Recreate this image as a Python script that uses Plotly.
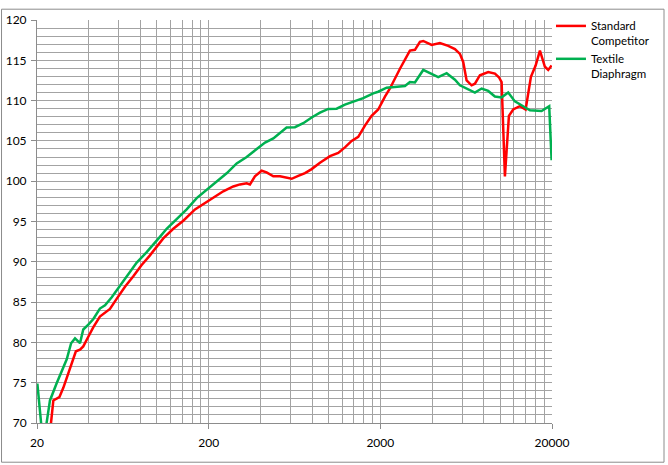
import plotly.graph_objects as go

# Frequency response readings (Hz, dB)
freq_red = [20.0, 21.4, 22.2, 23.2, 24.9, 27.0, 28.5, 29.8, 31.9, 33.7, 35.6, 37.2, 39.8,
            42.6, 46.5, 49.8, 53.2, 58.2, 65.1, 72.8, 81.4, 91.0, 99.6, 108.8, 124.4,
            142.3, 166.5, 190.3, 212.8, 243.3, 278.2, 304.4, 333, 348, 372, 407, 435,
            476, 521, 557, 609, 665, 728, 796, 890, 1018, 1137, 1244, 1361, 1487, 1627,
            1779, 1944, 2128, 2275, 2602, 2974, 3181, 3402, 3556, 3980, 4448, 4973,
            5440, 5817, 6078, 6362, 6802, 7112, 7606, 8500, 9300, 9812, 10174, 10634,
            11220, 11886, 13002, 14040, 15076, 16058, 17010, 18186, 19012, 19894]
spl_red = [66.0, 64.5, 64.5, 66.5, 72.8, 73.2, 74.4, 75.6, 77.7, 78.9, 79.1, 79.5, 80.7,
           81.9, 83.2, 83.7, 84.15, 85.4, 86.9, 88.2, 89.6, 90.8, 91.85, 92.9, 94.1,
           95.1, 96.5, 97.3, 97.9, 98.75, 99.35, 99.6, 99.75, 99.6, 100.6, 101.3, 101.1,
           100.6, 100.6, 100.45, 100.3, 100.65, 101.0, 101.5, 102.3, 103.1, 103.5, 104.2,
           105.0, 105.5, 106.9, 108.1, 108.9, 110.5, 111.5, 113.95, 116.2, 116.3, 117.3,
           117.4, 116.9, 117.15, 116.8, 116.4, 115.8, 114.8, 112.5, 111.9, 112.1, 113.15,
           113.55, 113.35, 112.9, 112.3, 100.6, 108.1, 108.9, 109.3, 108.9, 112.95,
           114.35, 116.2, 114.2, 113.8, 114.35]

freq_green = [20.1, 21.4, 21.9, 22.2, 23.8, 26.0, 28.5, 29.8, 31.6, 33.3, 35.6, 37.2, 39.8,
              42.6, 46.5, 49.8, 54.5, 60.9, 68.0, 76.2, 87.1, 91.0, 104, 113.8, 130.2,
              148.9, 170.3, 194.7, 222.7, 254.6, 291.2, 333, 381, 426, 476, 521, 569,
              636, 711, 796, 890, 995, 1113, 1244, 1391, 1590, 1819, 1944, 2176, 2432,
              2782, 2974, 3181, 3556, 3980, 4348, 4866, 5440, 5817, 6362, 7112, 7780,
              8500, 9300, 10174, 11114, 12158, 13592, 14872, 17396, 19262, 19894]
spl_green = [74.9, 69.0, 66.5, 68.5, 72.8, 74.9, 76.85, 77.9, 79.9, 80.5, 79.9, 81.6, 82.2,
             82.9, 84.2, 84.6, 85.6, 87.0, 88.5, 89.9, 91.2, 91.7, 93.1, 94.1, 95.3,
             96.5, 97.9, 98.95, 99.96, 100.98, 102.2, 103.0, 104.0, 104.8, 105.3, 106.0,
             106.65, 106.7, 107.2, 107.9, 108.5, 108.97, 109.0, 109.5, 109.9, 110.3, 110.9,
             111.1, 111.6, 111.65, 111.8, 112.3, 112.25, 113.8, 113.3, 112.9, 113.4, 112.6,
             111.9, 111.5, 111.0, 111.5, 111.2, 110.5, 110.4, 111.0, 109.9, 109.3, 108.8,
             108.7, 109.3, 102.6]

x_major = [20, 200, 2000, 20000]
x_minor = [m * k for m in (20, 200, 2000) for k in range(2, 10)]

grid = "#a3a3a3"
axis = "#8c8c8c"
font = "Lato"
x_range = [1.30103, 4.30103]

fig = go.Figure()
fig.add_trace(go.Scatter(x=freq_red, y=spl_red, mode="lines", name="Standard<br>Competitor",
                         line=dict(color="#ff0000", width=2.5)))
fig.add_trace(go.Scatter(x=freq_green, y=spl_green, mode="lines", name="Textile<br>Diaphragm",
                         line=dict(color="#00b050", width=2.5)))

fig.update_layout(
    width=668, height=465,
    margin=dict(l=37, r=116, t=12, b=42),
    paper_bgcolor="white", plot_bgcolor="white",
    font=dict(family=font, size=12, color="black"),
    xaxis=dict(
        type="log", range=x_range, automargin=False,
        tickmode="array", tickvals=x_major, ticktext=[str(v) for v in x_major],
        ticks="outside", ticklen=5, tickcolor=axis, ticklabelstandoff=4,
        showgrid=True, gridcolor=grid, gridwidth=1,
        showline=True, linecolor=axis, linewidth=1,
        zeroline=False,
    ),
    # second x axis only carries the 2..9 decade grid
    xaxis2=dict(
        type="log", range=x_range, overlaying="x", side="bottom", automargin=False,
        tickmode="array", tickvals=x_minor, showticklabels=False, ticks="",
        showgrid=True, gridcolor=grid, gridwidth=1, showline=False, zeroline=False,
    ),
    yaxis=dict(
        range=[70, 120], tickmode="linear", tick0=70, dtick=5, automargin=False,
        ticks="outside", ticklen=5, tickcolor=axis, ticklabelstandoff=2,
        showgrid=True, gridcolor=grid, gridwidth=1,
        showline=True, linecolor=axis, linewidth=1,
        minor=dict(dtick=1, showgrid=True, gridcolor=grid, gridwidth=1, ticks=""),
        zeroline=False,
    ),
    legend=dict(x=0.998, xanchor="left", y=1.02, yanchor="top",
                valign="top", bgcolor="rgba(0,0,0,0)",
                font=dict(family=font, size=11.5, color="black")),
    shapes=[dict(type="rect", xref="paper", yref="paper",
                 x0=-0.0689, x1=1.2175, y0=-0.0973, y1=1.0268,
                 line=dict(color="#8c8c8c", width=1), layer="below")],
)

# invisible trace so the grid-only axis gets drawn
fig.add_trace(go.Scatter(x=[x_major[0]], y=[None], xaxis="x2", showlegend=False,
                         hoverinfo="skip", mode="lines"))

fig.write_html("out.html", config={"displayModeBar": False},
               post_script="document.body.style.margin='0';")
